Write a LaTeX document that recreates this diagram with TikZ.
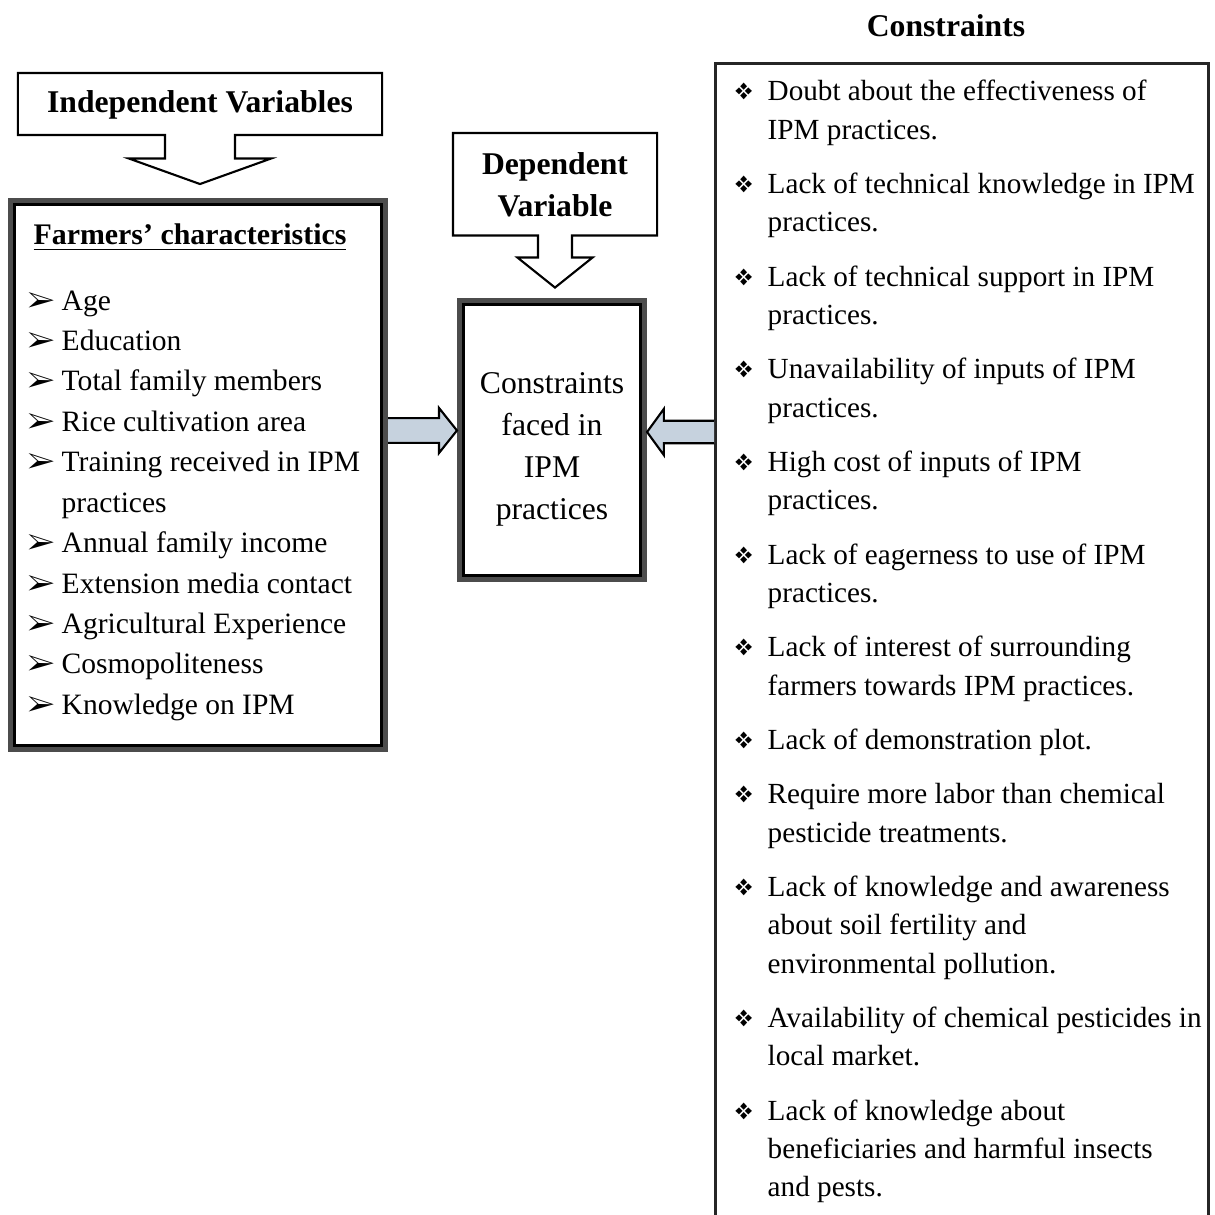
\documentclass[tikz,border=0pt]{standalone}
\usepackage{fontspec}
\setmainfont{Liberation Serif}
\usepackage{pifont}
\usetikzlibrary{calc,positioning}

\definecolor{pfeilblau}{RGB}{198,210,222}
\newcommand\farmbul{\makebox[0.34cm][l]{\ding{226}}}
\newcommand\consbul{\makebox[0.33cm][l]{\raisebox{0.3pt}{\scalebox{0.8}{\ding{118}}}}}

\tikzset{
  callout/.style={draw=black, line width=0.6pt, line join=miter},
  heavybox/.style={draw=black!70, line width=0.08cm, fill=white, inner sep=0pt},
  thinbox/.style={draw=black!85, line width=0.9pt, inner sep=0pt},
  blockarr/.style={draw=black, line width=0.6pt, fill=pfeilblau, line join=miter},
  headtxt/.style={font=\fontsize{9}{12}\selectfont\bfseries, align=center, inner sep=0pt, outer sep=0pt},
  farmtxt/.style={font=\fontsize{8.4}{11.5}\selectfont, align=left, inner sep=0pt, anchor=north west},
  constxt/.style={font=\fontsize{8.3}{10.9}\selectfont, align=left, inner sep=0pt, anchor=north west}
}

\begin{document}
\begin{tikzpicture}[x=0.01cm, y=-0.01cm]
  \useasboundingbox[fill=white] (0,0) rectangle (1215,1215);

  % Unabhaengige Variablen (Kasten mit Pfeil nach unten)
  \node[headtxt, minimum width=3.64cm, minimum height=0.61cm] (indep) at (200,104.5) {Independent Variables};
  \draw[callout] ([yshift=0.01cm]indep.north west) -- ([yshift=0.01cm]indep.north east) -- (indep.south east)
    -- ([xshift=0.35cm]indep.south) -- ([xshift=0.35cm, yshift=-0.235cm]indep.south)
    -- ([xshift=0.71cm, yshift=-0.235cm]indep.south) -- ([yshift=-0.49cm]indep.south)
    -- ([xshift=-0.71cm, yshift=-0.235cm]indep.south) -- ([xshift=-0.35cm, yshift=-0.235cm]indep.south)
    -- ([xshift=-0.35cm]indep.south) -- (indep.south west) -- cycle;

  % Abhaengige Variable
  \node[headtxt, minimum width=2.04cm, minimum height=1.01cm] (dep) at (555,185) {Dependent\\Variable};
  \draw[callout] ([yshift=0.015cm]dep.north west) -- ([yshift=0.015cm]dep.north east) -- (dep.south east)
    -- ([xshift=0.17cm]dep.south) -- ([xshift=0.17cm, yshift=-0.22cm]dep.south)
    -- ([xshift=0.375cm, yshift=-0.22cm]dep.south) -- ([yshift=-0.52cm]dep.south)
    -- ([xshift=-0.375cm, yshift=-0.22cm]dep.south) -- ([xshift=-0.17cm, yshift=-0.22cm]dep.south)
    -- ([xshift=-0.17cm]dep.south) -- (dep.south west) -- cycle;

  % Merkmale der Landwirte
  \node[heavybox, minimum width=3.72cm, minimum height=5.46cm] (farm) at (198,475) {};
  \draw[black, line width=0.03cm] ([shift={(0.065cm,-0.065cm)}]farm.north west) rectangle ([shift={(-0.065cm,0.065cm)}]farm.south east);
  \node[headtxt, font=\fontsize{8.5}{11.5}\selectfont\bfseries, anchor=base] (farmtitle) at (190,244) {\underline{Farmers’ characteristics}};
  \node[farmtxt] (farmlist) at (27,281) {\strut\farmbul Age\\
    \farmbul Education\\
    \farmbul Total family members\\
    \farmbul Rice cultivation area\\
    \farmbul Training received in IPM\\
    \hspace*{0.34cm}practices\\
    \farmbul Annual family income\\
    \farmbul Extension media contact\\
    \farmbul Agricultural Experience\\
    \farmbul Cosmopoliteness\\
    \farmbul Knowledge on IPM};

  % Zentraler Kasten
  \node[heavybox, minimum width=1.82cm, minimum height=2.76cm] (centre) at (552,440) {};
  \draw[black, line width=0.03cm] ([shift={(0.065cm,-0.065cm)}]centre.north west) rectangle ([shift={(-0.065cm,0.065cm)}]centre.south east);
  \node[align=center, inner sep=0pt, font=\fontsize{9}{11.95}\selectfont] (centretxt) at (552,449) {Constraints\\faced in\\IPM\\practices};

  % Hemmnisse
  \node[headtxt, anchor=base] (constitle) at (946,37) {Constraints};
  \node[thinbox, minimum width=4.93cm, minimum height=12cm, anchor=north west] (cons) at (714,62) {};
  \node[constxt] (conslist) at (734,73.2) {\strut\consbul Doubt about the effectiveness of\\
    \hspace*{0.33cm}IPM practices.\\[0.16cm]
    \consbul Lack of technical knowledge in IPM\\
    \hspace*{0.33cm}practices.\\[0.16cm]
    \consbul Lack of technical support in IPM\\
    \hspace*{0.33cm}practices.\\[0.16cm]
    \consbul Unavailability of inputs of IPM\\
    \hspace*{0.33cm}practices.\\[0.16cm]
    \consbul High cost of inputs of IPM\\
    \hspace*{0.33cm}practices.\\[0.16cm]
    \consbul Lack of eagerness to use of IPM\\
    \hspace*{0.33cm}practices.\\[0.16cm]
    \consbul Lack of interest of surrounding\\
    \hspace*{0.33cm}farmers towards IPM practices.\\[0.16cm]
    \consbul Lack of demonstration plot.\\[0.16cm]
    \consbul Require more labor than chemical\\
    \hspace*{0.33cm}pesticide treatments.\\[0.16cm]
    \consbul Lack of knowledge and awareness\\
    \hspace*{0.33cm}about soil fertility and\\
    \hspace*{0.33cm}environmental pollution.\\[0.16cm]
    \consbul Availability of chemical pesticides in\\
    \hspace*{0.33cm}local market.\\[0.16cm]
    \consbul Lack of knowledge about\\
    \hspace*{0.33cm}beneficiaries and harmful insects\\
    \hspace*{0.33cm}and pests.};

  % Blockpfeile
  \coordinate (tipL) at ([yshift=0.095cm]centre.west);
  \coordinate (tipR) at ([yshift=0.08cm]centre.east);
  \draw[blockarr] let \p1=(farm.east |- tipL), \p2=(tipL) in
    (\x1,\y1+3.5pt) -- (\x2-5.1pt,\y1+3.5pt) -- (\x2-5.1pt,\y1+6.4pt) -- (\x2,\y2)
    -- (\x2-5.1pt,\y1-6.4pt) -- (\x2-5.1pt,\y1-3.5pt) -- (\x1,\y1-3.5pt);
  \draw[blockarr] let \p1=(cons.west |- tipR), \p2=(tipR) in
    (\x1,\y1+3.2pt) -- (\x2+4.8pt,\y1+3.2pt) -- (\x2+4.8pt,\y1+6.6pt) -- (\x2,\y2)
    -- (\x2+4.8pt,\y1-6.6pt) -- (\x2+4.8pt,\y1-3.2pt) -- (\x1,\y1-3.2pt);
\end{tikzpicture}
\end{document}
